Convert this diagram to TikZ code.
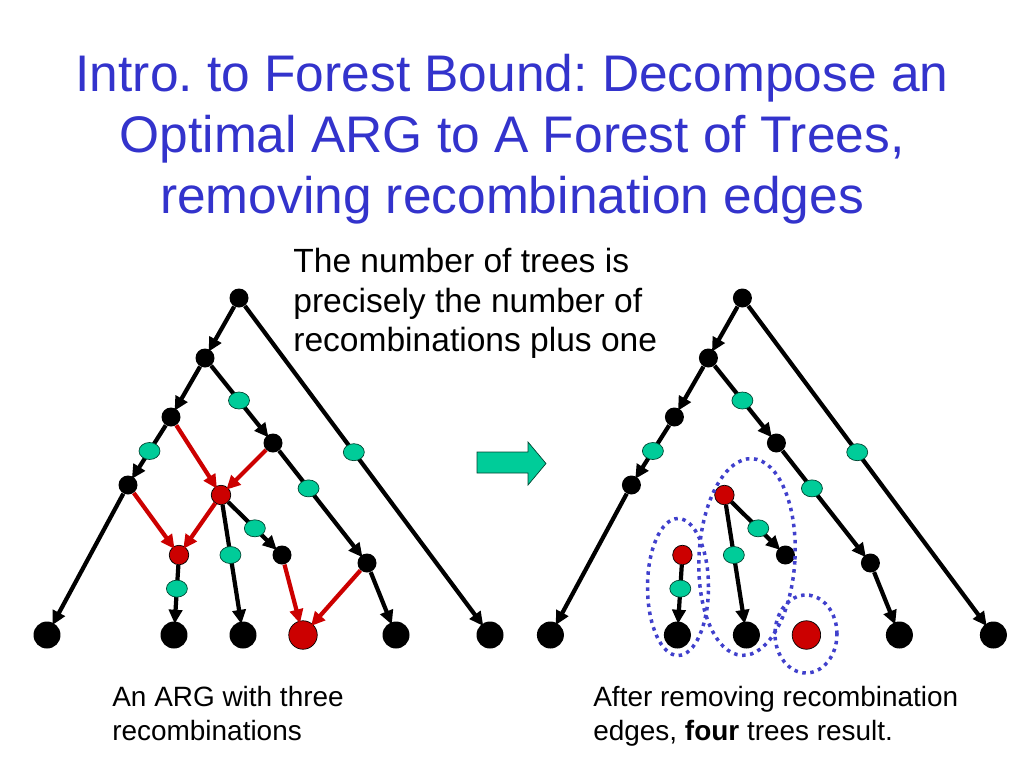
\documentclass[tikz,border=0pt]{standalone}
\usepackage{fontspec}
\setmainfont{Liberation Sans}
\usetikzlibrary{arrows.meta,shapes.geometric}
\definecolor{titleblue}{RGB}{51,51,204}
\definecolor{argred}{RGB}{204,0,0}
\definecolor{mutgreen}{RGB}{0,204,153}
\definecolor{mutline}{RGB}{0,70,50}
\definecolor{grpblue}{RGB}{64,64,204}
\frenchspacing
\begin{document}
\begin{tikzpicture}[x=0.02cm, y=-0.02cm,
    inner/.style={circle, fill=black, minimum size=0.38cm, inner sep=0pt},
    leaf/.style={circle, fill=black, minimum size=0.54cm, inner sep=0pt},
    rec/.style={circle, draw=black, thin, fill=argred, minimum size=0.39cm, inner sep=0pt},
    recleaf/.style={rec, minimum size=0.57cm},
    mut/.style={ellipse, draw=mutline, thin, fill=mutgreen, minimum width=0.42cm, minimum height=0.34cm, inner sep=0pt},
    edge/.style={line width=2.4pt, shorten >=-1.5pt, -{Triangle[length=8pt, width=7.5pt]}},
    recedge/.style={edge, draw=argred, fill=argred},
    tree/.style={ellipse, draw=grpblue, line width=2pt, dash pattern=on 2pt off 2.6pt, inner sep=0pt}]

    \useasboundingbox (0,0) rectangle (1024,768);

    % titel
    \node[anchor=north, align=center, inner sep=0pt, text=titleblue,
          font=\fontsize{29.3}{34.6}\selectfont] (title) at (512,54)
        {Intro. to Forest Bound: Decompose an\\Optimal ARG to A Forest of Trees,\\removing recombination edges};
    \node[anchor=north west, align=left, inner sep=0pt,
          font=\fontsize{19.1}{22.7}\selectfont] (claim) at (293,247.5)
        {The number of trees is\\precisely the number of\\recombinations plus one};

    % ARG
    \node[inner] (root) at (239,298) {};
    \node[inner] (n1) at (205,358) {};
    \node[inner] (n2) at (171,417) {};
    \node[inner] (n3) at (273,443) {};
    \node[inner] (n4) at (128,485) {};
    \node[rec] (r1) at (221,495) {};
    \node[rec] (r2) at (179,555) {};
    \node[inner] (n5) at (282,555) {};
    \node[inner] (n6) at (367,563) {};
    \node[leaf] (l1) at (47,635) {};
    \node[leaf] (l2) at (174,635) {};
    \node[leaf] (l3) at (243,635) {};
    \node[recleaf] (l4) at (303,635) {};
    \node[leaf] (l5) at (396,635) {};
    \node[leaf] (l6) at (490,635) {};

    \draw[edge] (root) -- (n1);
    \draw[edge] (root) -- node[mut, pos=0.46] (m3) {} (l6);
    \draw[edge] (n1) -- (n2);
    \draw[edge] (n1) -- node[mut] (m1) {} (n3);
    \draw[edge] (n2) -- node[mut] (m2) {} (n4);
    \draw[edge] (n3) -- node[mut, pos=0.36] (m4) {} (n6);
    \draw[edge] (n4) -- (l1);
    \draw[edge] (r1) -- node[mut, pos=0.57] (m5) {} (n5);
    \draw[edge] (r1) -- node[mut, pos=0.43] (m6) {} (l3);
    \draw[edge] (r2) -- node[mut, pos=0.42] (m7) {} (l2);
    \draw[edge] (n6) -- (l5);

    % rekombinationskanten
    \draw[recedge] (n2) -- (r1);
    \draw[recedge] (n3) -- (r1);
    \draw[recedge] (n4) -- (r2);
    \draw[recedge] (r1) -- (r2);
    \draw[recedge] (n5) -- (l4);
    \draw[recedge] (n6) -- (l4);

    % pfeil
    \draw[draw=mutline, fill=mutgreen] (477,452) -- (528,452) -- (528,442) -- (546,463.5)
        -- (528,485) -- (528,473) -- (477,473) -- cycle;

    % wald
    \begin{scope}[xshift=10.07cm, name prefix=f-]
    \node[inner] (root) at (239,298) {};
    \node[inner] (n1) at (205,358) {};
    \node[inner] (n2) at (171,417) {};
    \node[inner] (n3) at (273,443) {};
    \node[inner] (n4) at (128,485) {};
    \node[rec] (r1) at (221,495) {};
    \node[rec] (r2) at (179,555) {};
    \node[inner] (n5) at (282,555) {};
    \node[inner] (n6) at (367,563) {};
    \node[leaf] (l1) at (47,635) {};
    \node[leaf] (l2) at (174,635) {};
    \node[leaf] (l3) at (243,635) {};
    \node[recleaf] (l4) at (303,635) {};
    \node[leaf] (l5) at (396,635) {};
    \node[leaf] (l6) at (490,635) {};

    \draw[edge] (root) -- (n1);
    \draw[edge] (root) -- node[mut, pos=0.46] (m3) {} (l6);
    \draw[edge] (n1) -- (n2);
    \draw[edge] (n1) -- node[mut] (m1) {} (n3);
    \draw[edge] (n2) -- node[mut] (m2) {} (n4);
    \draw[edge] (n3) -- node[mut, pos=0.36] (m4) {} (n6);
    \draw[edge] (n4) -- (l1);
    \draw[edge] (r1) -- node[mut, pos=0.57] (m5) {} (n5);
    \draw[edge] (r1) -- node[mut, pos=0.43] (m6) {} (l3);
    \draw[edge] (r2) -- node[mut, pos=0.42] (m7) {} (l2);
    \draw[edge] (n6) -- (l5);
    \end{scope}

    \node[tree, minimum width=1.22cm, minimum height=2.74cm] (t1) at (678,587) {};
    \node[tree, minimum width=1.92cm, minimum height=3.94cm, rotate=-3] (t2) at (747,557) {};
    \node[tree, minimum width=1.24cm, minimum height=1.56cm] (t3) at (806,634) {};

    % unterschriften
    \node[anchor=north west, align=left, inner sep=0pt,
          font=\fontsize{15.9}{19.8}\selectfont] (capl) at (112,685.5)
        {An ARG with three\\recombinations};
    \node[anchor=north west, align=left, inner sep=0pt,
          font=\fontsize{15.9}{19.8}\selectfont] (capr) at (593,685.5)
        {After removing recombination\\edges, \textbf{four} trees result.};
\end{tikzpicture}
\end{document}
